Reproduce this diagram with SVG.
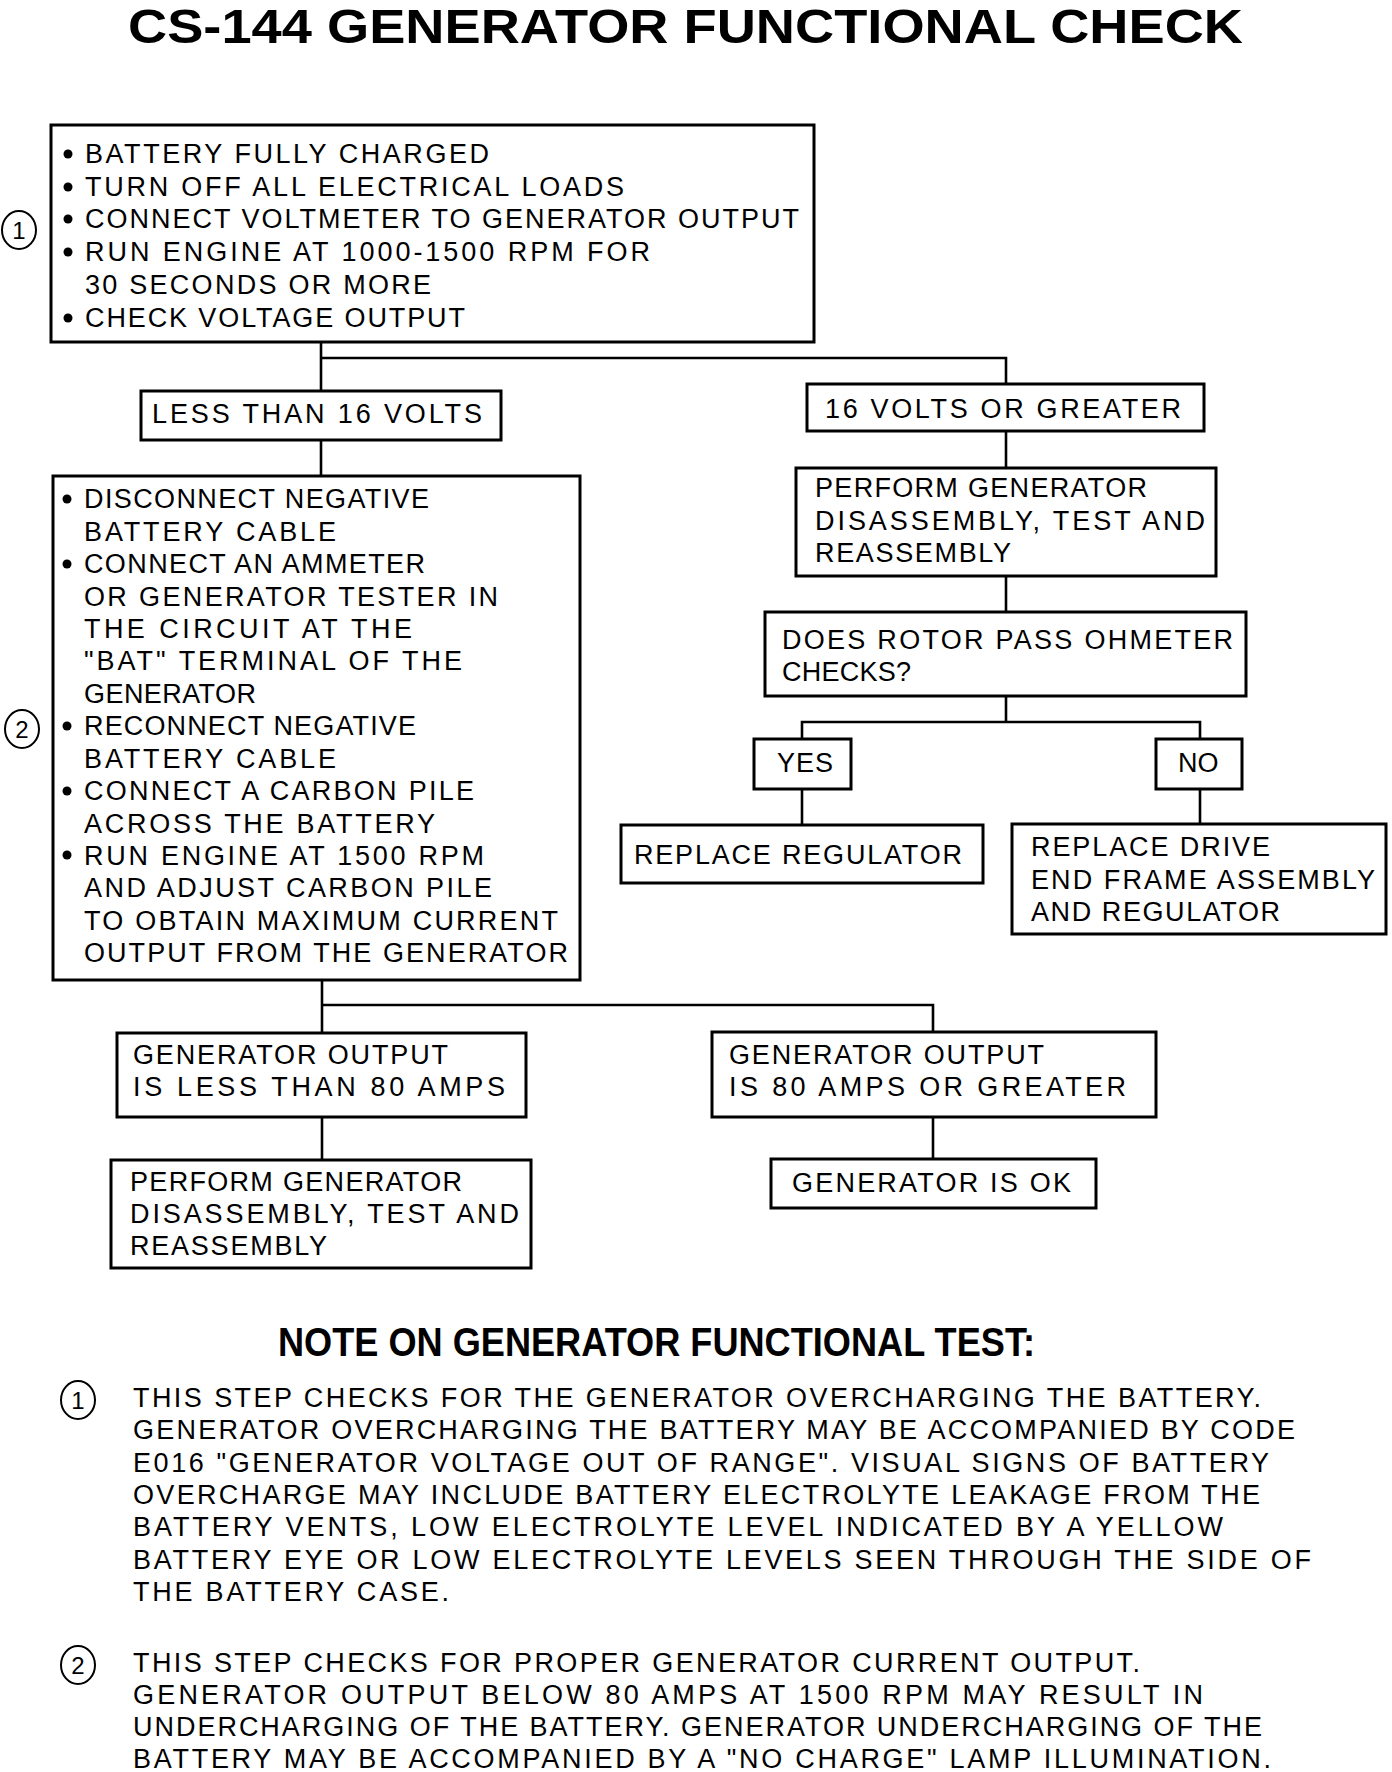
<svg xmlns="http://www.w3.org/2000/svg" width="1392" height="1772" viewBox="0 0 1392 1772">
<style>
.bx{fill:#fff;stroke:#000;stroke-width:3}
.ln{fill:none;stroke:#000;stroke-width:2.6}
.t{font-family:"Liberation Sans",Arial,sans-serif;font-size:27px;fill:#000}
.h{font-family:"Liberation Sans",Arial,sans-serif;font-weight:bold;fill:#000}
.c{fill:none;stroke:#000;stroke-width:2}
.ct{font-family:"Liberation Sans",Arial,sans-serif;font-size:24px;fill:#000;text-anchor:middle}
</style>
<rect width="1392" height="1772" fill="#fff"/>
<text class="h" x="128" y="43" font-size="49" textLength="1115" lengthAdjust="spacingAndGlyphs">CS-144  GENERATOR  FUNCTIONAL  CHECK</text>

<g id="connectors">
<polyline class="ln" points="321,342 321,391"/>
<polyline class="ln" points="321,358 1006,358 1006,384"/>
<polyline class="ln" points="321,440 321,476"/>
<polyline class="ln" points="1006,431 1006,468"/>
<polyline class="ln" points="1006,576 1006,612"/>
<polyline class="ln" points="1006,696 1006,722"/>
<polyline class="ln" points="802,739 802,722 1200,722 1200,739"/>
<polyline class="ln" points="802,789 802,825"/>
<polyline class="ln" points="1200,789 1200,824"/>
<polyline class="ln" points="322,980 322,1033"/>
<polyline class="ln" points="322,1005 933,1005 933,1032"/>
<polyline class="ln" points="322,1117 322,1160"/>
<polyline class="ln" points="933,1117 933,1159"/>
</g>

<g id="step1">
<rect class="bx" x="51" y="125" width="763" height="217"/>
<circle cx="68" cy="154" r="4.5"/><circle cx="68" cy="187" r="4.5"/><circle cx="68" cy="219" r="4.5"/><circle cx="68" cy="252" r="4.5"/><circle cx="68" cy="318" r="4.5"/>
<text class="t" x="85" y="163" textLength="404" lengthAdjust="spacing">BATTERY FULLY CHARGED</text>
<text class="t" x="85" y="196" textLength="539" lengthAdjust="spacing">TURN OFF ALL ELECTRICAL LOADS</text>
<text class="t" x="85" y="228" textLength="714" lengthAdjust="spacing">CONNECT VOLTMETER TO GENERATOR OUTPUT</text>
<text class="t" x="85" y="261" textLength="565" lengthAdjust="spacing">RUN ENGINE AT 1000-1500 RPM FOR</text>
<text class="t" x="85" y="294" textLength="346" lengthAdjust="spacing">30 SECONDS OR MORE</text>
<text class="t" x="85" y="327" textLength="380" lengthAdjust="spacing">CHECK VOLTAGE OUTPUT</text>
</g>
<g id="mark1">
<ellipse class="c" cx="19" cy="230" rx="17" ry="19"/>
<text class="ct" x="19" y="239">1</text>
</g>

<g id="less16">
<rect class="bx" x="141" y="391" width="360" height="49"/>
<text class="t" x="152" y="423" textLength="330" lengthAdjust="spacing">LESS THAN 16 VOLTS</text>
</g>

<g id="ge16">
<rect class="bx" x="807" y="384" width="397" height="47"/>
<text class="t" x="825" y="418" textLength="356" lengthAdjust="spacing">16 VOLTS OR GREATER</text>
</g>

<g id="perfR">
<rect class="bx" x="796" y="468" width="420" height="108"/>
<text class="t" x="815" y="497" textLength="332" lengthAdjust="spacing">PERFORM GENERATOR</text>
<text class="t" x="815" y="530" textLength="390" lengthAdjust="spacing">DISASSEMBLY, TEST AND</text>
<text class="t" x="815" y="562" textLength="196" lengthAdjust="spacing">REASSEMBLY</text>
</g>

<g id="rotor">
<rect class="bx" x="765" y="612" width="481" height="84"/>
<text class="t" x="782" y="649" textLength="451" lengthAdjust="spacing">DOES ROTOR PASS OHMETER</text>
<text class="t" x="782" y="681" textLength="129" lengthAdjust="spacing">CHECKS?</text>
</g>

<g id="yes">
<rect class="bx" x="754" y="739" width="97" height="50"/>
<text class="t" x="777" y="772" textLength="56" lengthAdjust="spacing">YES</text>
</g>

<g id="no">
<rect class="bx" x="1156" y="739" width="86" height="50"/>
<text class="t" x="1178" y="772">NO</text>
</g>

<g id="repReg">
<rect class="bx" x="621" y="825" width="362" height="58"/>
<text class="t" x="634" y="864" textLength="328" lengthAdjust="spacing">REPLACE REGULATOR</text>
</g>

<g id="repDrive">
<rect class="bx" x="1012" y="824" width="374" height="110"/>
<text class="t" x="1031" y="856" textLength="239" lengthAdjust="spacing">REPLACE DRIVE</text>
<text class="t" x="1031" y="889" textLength="344" lengthAdjust="spacing">END FRAME ASSEMBLY</text>
<text class="t" x="1031" y="921" textLength="249" lengthAdjust="spacing">AND REGULATOR</text>
</g>

<g id="step2">
<rect class="bx" x="53" y="476" width="527" height="504"/>
<circle cx="67" cy="499" r="4.5"/><circle cx="67" cy="564" r="4.5"/><circle cx="67" cy="726" r="4.5"/><circle cx="67" cy="791" r="4.5"/><circle cx="67" cy="855" r="4.5"/>
<text class="t" x="84" y="508" textLength="345" lengthAdjust="spacing">DISCONNECT NEGATIVE</text>
<text class="t" x="84" y="541" textLength="252" lengthAdjust="spacing">BATTERY CABLE</text>
<text class="t" x="84" y="573" textLength="341" lengthAdjust="spacing">CONNECT AN AMMETER</text>
<text class="t" x="84" y="606" textLength="414" lengthAdjust="spacing">OR GENERATOR TESTER IN</text>
<text class="t" x="84" y="638" textLength="328" lengthAdjust="spacing">THE CIRCUIT AT THE</text>
<text class="t" x="84" y="670" textLength="378" lengthAdjust="spacing">"BAT" TERMINAL OF THE</text>
<text class="t" x="84" y="703" textLength="172" lengthAdjust="spacing">GENERATOR</text>
<text class="t" x="84" y="735" textLength="332" lengthAdjust="spacing">RECONNECT NEGATIVE</text>
<text class="t" x="84" y="768" textLength="252" lengthAdjust="spacing">BATTERY CABLE</text>
<text class="t" x="84" y="800" textLength="390" lengthAdjust="spacing">CONNECT A CARBON PILE</text>
<text class="t" x="84" y="833" textLength="351" lengthAdjust="spacing">ACROSS THE BATTERY</text>
<text class="t" x="84" y="865" textLength="400" lengthAdjust="spacing">RUN ENGINE AT 1500 RPM</text>
<text class="t" x="84" y="897" textLength="408" lengthAdjust="spacing">AND ADJUST CARBON PILE</text>
<text class="t" x="84" y="930" textLength="474" lengthAdjust="spacing">TO OBTAIN MAXIMUM CURRENT</text>
<text class="t" x="84" y="962" textLength="484" lengthAdjust="spacing">OUTPUT FROM THE GENERATOR</text>
</g>
<g id="mark2">
<ellipse class="c" cx="22" cy="729" rx="17" ry="19"/>
<text class="ct" x="22" y="738">2</text>
</g>

<g id="genLess">
<rect class="bx" x="117" y="1033" width="409" height="84"/>
<text class="t" x="133" y="1064" textLength="315" lengthAdjust="spacing">GENERATOR OUTPUT</text>
<text class="t" x="133" y="1096" textLength="372" lengthAdjust="spacing">IS LESS THAN 80 AMPS</text>
</g>

<g id="genGE">
<rect class="bx" x="712" y="1032" width="444" height="85"/>
<text class="t" x="729" y="1064" textLength="315" lengthAdjust="spacing">GENERATOR OUTPUT</text>
<text class="t" x="729" y="1096" textLength="397" lengthAdjust="spacing">IS 80 AMPS OR GREATER</text>
</g>

<g id="perfL">
<rect class="bx" x="111" y="1160" width="420" height="108"/>
<text class="t" x="130" y="1191" textLength="332" lengthAdjust="spacing">PERFORM GENERATOR</text>
<text class="t" x="130" y="1223" textLength="389" lengthAdjust="spacing">DISASSEMBLY, TEST AND</text>
<text class="t" x="130" y="1255" textLength="197" lengthAdjust="spacing">REASSEMBLY</text>
</g>

<g id="genOK">
<rect class="bx" x="771" y="1159" width="325" height="49"/>
<text class="t" x="792" y="1192" textLength="279" lengthAdjust="spacing">GENERATOR IS OK</text>
</g>

<g id="notes">
<text class="h" x="278" y="1356" font-size="40" textLength="757" lengthAdjust="spacingAndGlyphs">NOTE  ON  GENERATOR  FUNCTIONAL  TEST:</text>
<ellipse class="c" cx="78" cy="1400" rx="17" ry="19"/>
<text class="ct" x="78" y="1409">1</text>
<text class="t" x="133" y="1407" textLength="1128" lengthAdjust="spacing">THIS STEP CHECKS FOR THE GENERATOR OVERCHARGING THE BATTERY.</text>
<text class="t" x="133" y="1439" textLength="1162" lengthAdjust="spacing">GENERATOR OVERCHARGING THE BATTERY MAY BE ACCOMPANIED BY CODE</text>
<text class="t" x="133" y="1472" textLength="1136" lengthAdjust="spacing">E016 "GENERATOR VOLTAGE OUT OF RANGE". VISUAL SIGNS OF BATTERY</text>
<text class="t" x="133" y="1504" textLength="1127" lengthAdjust="spacing">OVERCHARGE MAY INCLUDE BATTERY ELECTROLYTE LEAKAGE FROM THE</text>
<text class="t" x="133" y="1536" textLength="1090" lengthAdjust="spacing">BATTERY VENTS, LOW ELECTROLYTE LEVEL INDICATED BY A YELLOW</text>
<text class="t" x="133" y="1569" textLength="1178" lengthAdjust="spacing">BATTERY EYE OR LOW ELECTROLYTE LEVELS SEEN THROUGH THE SIDE OF</text>
<text class="t" x="133" y="1601" textLength="316" lengthAdjust="spacing">THE BATTERY CASE.</text>
<ellipse class="c" cx="78" cy="1665" rx="17" ry="19"/>
<text class="ct" x="78" y="1674">2</text>
<text class="t" x="133" y="1672" textLength="1007" lengthAdjust="spacing">THIS STEP CHECKS FOR PROPER GENERATOR CURRENT OUTPUT.</text>
<text class="t" x="133" y="1704" textLength="1070" lengthAdjust="spacing">GENERATOR OUTPUT BELOW 80 AMPS AT 1500 RPM MAY RESULT IN</text>
<text class="t" x="133" y="1736" textLength="1129" lengthAdjust="spacing">UNDERCHARGING OF THE BATTERY. GENERATOR UNDERCHARGING OF THE</text>
<text class="t" x="133" y="1768" textLength="1138" lengthAdjust="spacing">BATTERY MAY BE ACCOMPANIED BY A "NO CHARGE" LAMP ILLUMINATION.</text>
</g>
</svg>
